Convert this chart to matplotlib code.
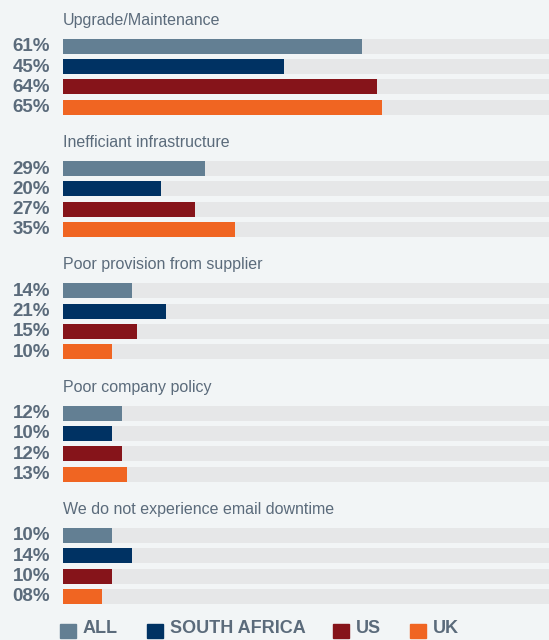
import matplotlib
matplotlib.use("Agg")
import matplotlib.pyplot as plt
from matplotlib.patches import Rectangle

plt.rcParams['font.family'] = ['Liberation Sans', 'DejaVu Sans']

categories = [
    "Upgrade/Maintenance",
    "Inefficiant infrastructure",
    "Poor provision from supplier",
    "Poor company policy",
    "We do not experience email downtime",
]
series = ["ALL", "SOUTH AFRICA", "US", "UK"]
values = [
    [61, 45, 64, 65],
    [29, 20, 27, 35],
    [14, 21, 15, 10],
    [12, 10, 12, 13],
    [10, 14, 10, 8],
]
colors = ["#637f93", "#003263", "#86141a", "#f06522"]

BG = "#f2f5f6"
TRACK = "#e6e7e8"
TEXT = "#5b6b7b"

W, H = 549, 640
fig = plt.figure(figsize=(W / 100, H / 100), dpi=100, facecolor=BG)

# axes: x in percent, y in pixel rows from the top
x0, x1 = 63, 553
ax = fig.add_axes([x0 / W, 0, (x1 - x0) / W, 1])
ax.set_facecolor(BG)
ax.patch.set_alpha(0)
ax.set_xlim(0, 100)
ax.set_ylim(H, 0)
ax.axis("off")

first_row = 46.2
group_step = 122.3
row_step = 20.3
bar_h = 15

for g, (cat, vals) in enumerate(zip(categories, values)):
    base = first_row + g * group_step
    ax.text(0, base - 26, cat, fontsize=11.5, color=TEXT, va="center", ha="left")
    for i, v in enumerate(vals):
        y = base + i * row_step
        ax.barh(y, 100, height=bar_h, color=TRACK, left=0)
        ax.barh(y, v, height=bar_h, color=colors[i], left=0)
        ax.text(-2.6, y + 0.5, f"{v:02d}%", fontsize=13.5, fontweight="bold",
                color=TEXT, ha="right", va="center")

# legend along the bottom edge
leg_x = [60, 147, 333, 410]
for x, name, c in zip(leg_x, series, colors):
    fig.patches.append(Rectangle((x / W, 2 / H), 16 / W, 14 / H,
                                 transform=fig.transFigure, color=c))
    fig.text((x + 23) / W, 3 / H, name, fontsize=13,
             fontweight="bold", color=TEXT, ha="left", va="bottom")

fig.savefig("out.png", dpi=100, facecolor=BG)
